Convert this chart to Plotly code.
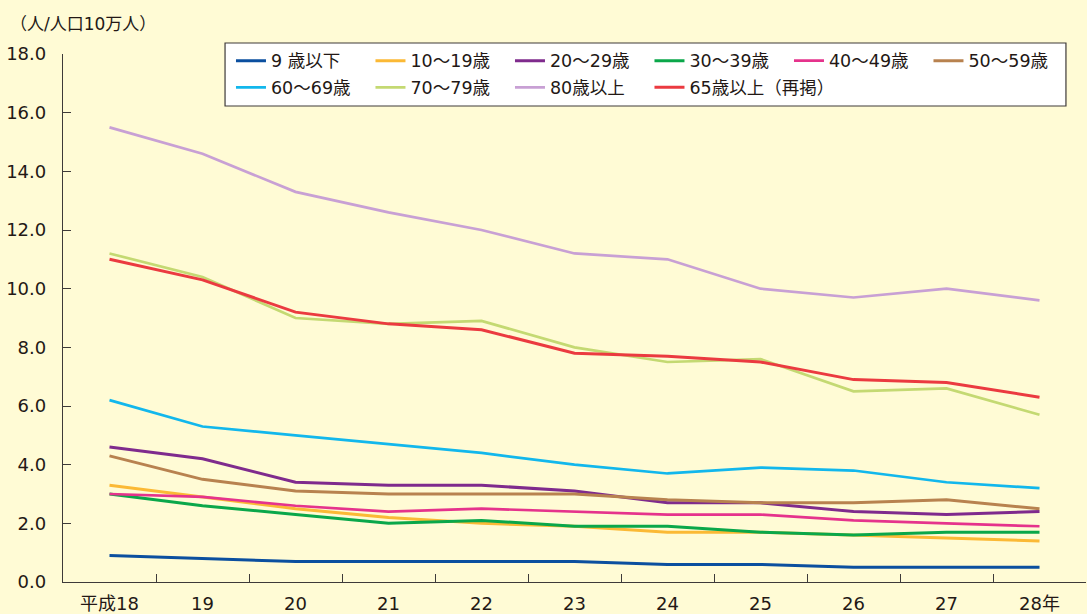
import plotly.graph_objects as go

# ---- data ----
years = ["平成18", "19", "20", "21", "22", "23", "24", "25", "26", "27", "28年"]

age_0_9 = [0.9, 0.8, 0.7, 0.7, 0.7, 0.7, 0.6, 0.6, 0.5, 0.5, 0.5]
age_10_19 = [3.3, 2.9, 2.5, 2.2, 2.0, 1.9, 1.7, 1.7, 1.6, 1.5, 1.4]
age_20_29 = [4.6, 4.2, 3.4, 3.3, 3.3, 3.1, 2.7, 2.7, 2.4, 2.3, 2.4]
age_30_39 = [3.0, 2.6, 2.3, 2.0, 2.1, 1.9, 1.9, 1.7, 1.6, 1.7, 1.7]
age_40_49 = [3.0, 2.9, 2.6, 2.4, 2.5, 2.4, 2.3, 2.3, 2.1, 2.0, 1.9]
age_50_59 = [4.3, 3.5, 3.1, 3.0, 3.0, 3.0, 2.8, 2.7, 2.7, 2.8, 2.5]
age_60_69 = [6.2, 5.3, 5.0, 4.7, 4.4, 4.0, 3.7, 3.9, 3.8, 3.4, 3.2]
age_70_79 = [11.2, 10.4, 9.0, 8.8, 8.9, 8.0, 7.5, 7.6, 6.5, 6.6, 5.7]
age_80_up = [15.5, 14.6, 13.3, 12.6, 12.0, 11.2, 11.0, 10.0, 9.7, 10.0, 9.6]
age_65_up = [11.0, 10.3, 9.2, 8.8, 8.6, 7.8, 7.7, 7.5, 6.9, 6.8, 6.3]

series_names = ["9 歳以下", "10～19歳", "20～29歳", "30～39歳", "40～49歳", "50～59歳",
                "60～69歳", "70～79歳", "80歳以上", "65歳以上（再掲）"]
series_values = [age_0_9, age_10_19, age_20_29, age_30_39, age_40_49, age_50_59,
                 age_60_69, age_70_79, age_80_up, age_65_up]
series_colors = ["#0b4f9f", "#fbb935", "#7f2b8d", "#0aa74a", "#e5338c", "#b8824f",
                 "#12b7ec", "#c4d972", "#c8a0d4", "#eb3a40"]
series_widths = [3, 3, 3, 3, 2.7, 3, 2.7, 2.7, 2.7, 3]
series_legend = ["legend"] * 6 + ["legend2"] * 4

y_ticks = [0, 2, 4, 6, 8, 10, 12, 14, 16, 18]

BG = "#fffbd5"
AX = "#3e3a39"
TXT = "#231815"
FONT = "DejaVu Sans, Noto Sans CJK JP, sans-serif"

fig = go.Figure()
for i, (name, vals, col, w, lg) in enumerate(zip(series_names, series_values, series_colors,
                                                 series_widths, series_legend)):
    fig.add_trace(go.Scatter(
        x=years, y=vals, name=name, mode="lines",
        line=dict(color=col, width=w),
        legend=lg,
        legendwidth=170 if i == len(series_names) - 1 else None,
    ))

legend_common = dict(
    orientation="h", xanchor="left", yanchor="middle",
    bgcolor="rgba(0,0,0,0)", borderwidth=0,
    entrywidth=94.5, entrywidthmode="pixels", itemwidth=30,
    font=dict(family=FONT, size=17.5, color=TXT),
)

fig.update_layout(
    width=1087, height=614,
    margin=dict(l=63, r=1, t=54, b=32, autoexpand=False),
    paper_bgcolor=BG, plot_bgcolor=BG,
    font=dict(family=FONT, size=18, color=TXT),
    showlegend=True,
    legend=dict(x=0.1642, y=0.9872, **legend_common),
    legend2=dict(x=0.1642, y=0.9366, **legend_common),
    xaxis=dict(
        type="category", range=[-0.5, 10.5], automargin=False,
        showline=True, linecolor=AX, linewidth=1.3,
        ticks="inside", ticklen=8, tickcolor=AX, tickwidth=1.3,
        tickson="boundaries", showgrid=False, zeroline=False,
        ticklabelstandoff=5,
        tickfont=dict(family=FONT, size=18, color=TXT),
    ),
    yaxis=dict(
        range=[0, 18], tickvals=y_ticks, tickformat=".1f", automargin=False,
        showline=True, linecolor=AX, linewidth=1.3,
        ticks="inside", ticklen=8, tickcolor=AX, tickwidth=1.3,
        showgrid=False, zeroline=False,
        ticklabelstandoff=12,
        tickfont=dict(family=FONT, size=18, color=TXT),
    ),
    shapes=[dict(
        type="rect", xref="paper", yref="paper",
        x0=0.1584, x1=0.9804, y0=0.9015, y1=1.0208,
        fillcolor="white", line=dict(color=AX, width=1.2), layer="below",
    )],
    annotations=[dict(
        text="（人/人口10万人）", xref="paper", yref="paper",
        x=-0.0538, y=1.0560, xanchor="left", yanchor="middle",
        showarrow=False, font=dict(family=FONT, size=17, color=TXT),
    )],
)

fig.write_html("out.html", config={"displayModeBar": False},
               post_script="document.body.style.margin='0';")
